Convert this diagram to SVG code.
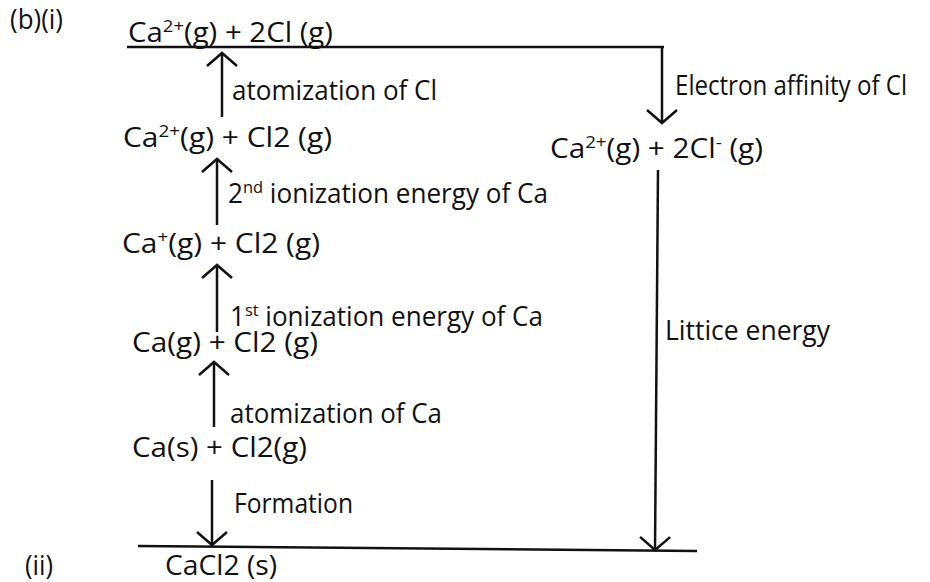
<svg xmlns="http://www.w3.org/2000/svg" width="930" height="582" viewBox="0 0 930 582">
<style>
text{font-family:"Open Sans","Liberation Sans",sans-serif;font-size:27px;fill:#111}
.sup{font-size:17px}
.ln{stroke:#111;stroke-width:2.5;fill:none}
</style>
<defs>
<marker id="ah" viewBox="-16 -16 32 32" markerWidth="32" markerHeight="32" refX="0" refY="0" orient="auto" markerUnits="userSpaceOnUse">
<path d="M-13,-15 L0,0 L-13,15" fill="none" stroke="#111" stroke-width="2.5"/>
</marker>
</defs>
<rect width="930" height="582" fill="#fff"/>
<g id="labels">
<text x="10" y="29" textLength="53" lengthAdjust="spacingAndGlyphs">(b)(i)</text>
<text x="25" y="575" textLength="28" lengthAdjust="spacingAndGlyphs">(ii)</text>
</g>
<g id="levels">
<line class="ln" x1="127" y1="47" x2="664" y2="47"/>
<line class="ln" x1="138" y1="546" x2="697" y2="551"/>
</g>
<g id="n1"><text x="128" y="42" textLength="205" lengthAdjust="spacingAndGlyphs">Ca<tspan class="sup" dy="-10">2+</tspan><tspan dy="10">(g) + 2Cl (g)</tspan></text></g>
<g id="n2"><text x="123" y="147" textLength="209" lengthAdjust="spacingAndGlyphs">Ca<tspan class="sup" dy="-10">2+</tspan><tspan dy="10">(g) + Cl2 (g)</tspan></text></g>
<g id="n3"><text x="122" y="253" textLength="198" lengthAdjust="spacingAndGlyphs">Ca<tspan class="sup" dy="-10">+</tspan><tspan dy="10">(g) + Cl2 (g)</tspan></text></g>
<g id="n4"><text x="132" y="352" textLength="186" lengthAdjust="spacingAndGlyphs">Ca(g) + Cl2 (g)</text></g>
<g id="n5"><text x="132" y="457" textLength="175" lengthAdjust="spacingAndGlyphs">Ca(s) + Cl2(g)</text></g>
<g id="n6"><text x="165" y="575" textLength="112" lengthAdjust="spacingAndGlyphs">CaCl2 (s)</text></g>
<g id="n7"><text x="550" y="158" textLength="213" lengthAdjust="spacingAndGlyphs">Ca<tspan class="sup" dy="-10">2+</tspan><tspan dy="10">(g) + 2Cl</tspan><tspan class="sup" dy="-10">-</tspan><tspan dy="10"> (g)</tspan></text></g>
<g id="connectors">
<line class="ln" x1="222" y1="117" x2="222" y2="53" marker-end="url(#ah)"/>
<line class="ln" x1="217" y1="225" x2="217" y2="159" marker-end="url(#ah)"/>
<line class="ln" x1="217" y1="332" x2="217" y2="265" marker-end="url(#ah)"/>
<line class="ln" x1="214" y1="427" x2="214" y2="362" marker-end="url(#ah)"/>
<line class="ln" x1="212" y1="480" x2="212" y2="545" marker-end="url(#ah)"/>
<line class="ln" x1="662" y1="47" x2="662" y2="123" marker-end="url(#ah)"/>
<line class="ln" x1="658" y1="170" x2="655" y2="550" marker-end="url(#ah)"/>
<text x="232" y="100" textLength="205" lengthAdjust="spacingAndGlyphs">atomization of Cl</text>
<text x="228" y="203" textLength="320" lengthAdjust="spacingAndGlyphs">2<tspan class="sup" dy="-10">nd</tspan><tspan dy="10"> ionization energy of Ca</tspan></text>
<text x="230" y="326" textLength="313" lengthAdjust="spacingAndGlyphs">1<tspan class="sup" dy="-10">st</tspan><tspan dy="10"> ionization energy of Ca</tspan></text>
<text x="230" y="423" textLength="212" lengthAdjust="spacingAndGlyphs">atomization of Ca</text>
<text x="234" y="513" textLength="119" lengthAdjust="spacingAndGlyphs">Formation</text>
<text x="675" y="95" textLength="232" lengthAdjust="spacingAndGlyphs">Electron affinity of Cl</text>
<text x="665" y="340" textLength="165" lengthAdjust="spacingAndGlyphs">Littice energy</text>
</g>
</svg>
